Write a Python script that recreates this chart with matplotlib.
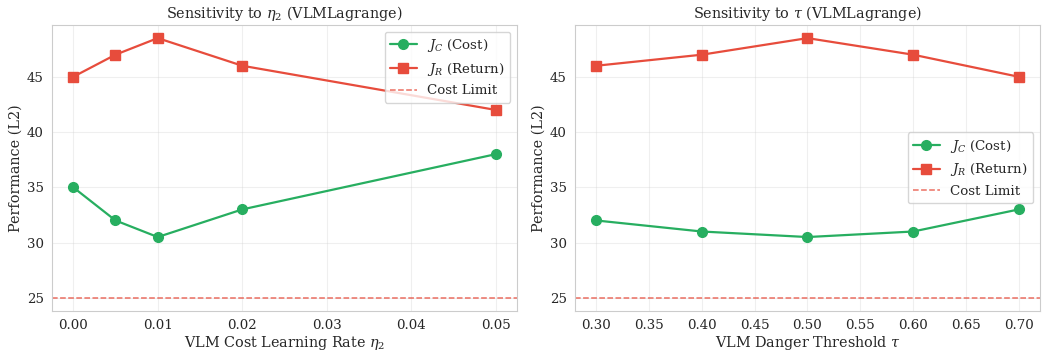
import matplotlib
matplotlib.use('Agg')
import matplotlib.pyplot as plt
import seaborn as sns

sns.set_style('whitegrid')
plt.rcParams['font.family'] = 'serif'
plt.rcParams['font.serif'] = ['DejaVu Serif']
plt.rcParams['mathtext.fontset'] = 'dejavuserif'

# data
eta2 = [0.0, 0.005, 0.01, 0.02, 0.05]
eta2_cost = [35, 32, 30.5, 33, 38]
eta2_return = [45, 47, 48.5, 46, 42]

tau = [0.3, 0.4, 0.5, 0.6, 0.7]
tau_cost = [32, 31, 30.5, 31, 33]
tau_return = [46, 47, 48.5, 47, 45]

cost_limit = 25
green = '#27ae60'
red = '#e74c3c'

fig, axes = plt.subplots(1, 2, figsize=(10.42, 3.54), dpi=100)
plt.subplots_adjust(left=0.05, right=0.998, bottom=0.122, top=0.929, wspace=0.125)

panels = [
    (axes[0], eta2, eta2_cost, eta2_return, r'Sensitivity to $\eta_2$ (VLMLagrange)',
     r'VLM Cost Learning Rate $\eta_2$', 'upper right'),
    (axes[1], tau, tau_cost, tau_return, r'Sensitivity to $\tau$ (VLMLagrange)',
     r'VLM Danger Threshold $\tau$', 'center right'),
]

for ax, x, jc, jr, title, xlabel, loc in panels:
    ax.plot(x, jc, '-o', color=green, lw=1.6, ms=7, label=r'$J_C$ (Cost)')
    ax.plot(x, jr, '-s', color=red, lw=1.6, ms=7, label=r'$J_R$ (Return)')
    ax.axhline(cost_limit, color=red, ls='--', lw=1.1, alpha=0.8, label='Cost Limit')
    ax.set_title(title, fontsize=10.4, pad=5)
    ax.set_xlabel(xlabel, fontsize=10.4, labelpad=1)
    ax.set_ylabel('Performance (L2)', fontsize=10.4, labelpad=3)
    ax.tick_params(labelsize=9.6, pad=2.5)
    ax.grid(True, alpha=0.3)
    ax.legend(loc=loc, fontsize=9.6, frameon=True)

plt.savefig('out.png')
